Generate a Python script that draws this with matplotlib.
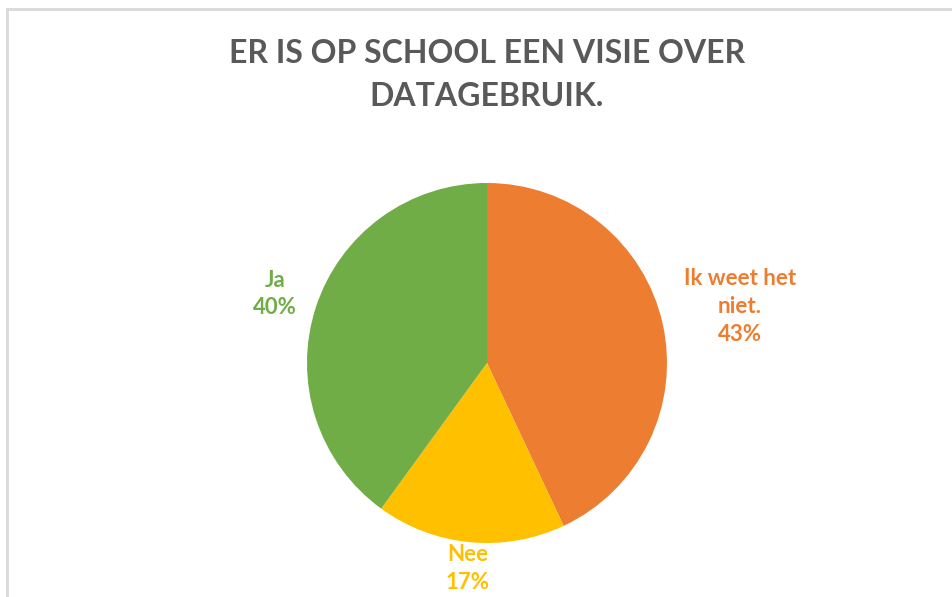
import numpy as np
import matplotlib.pyplot as plt

# data
categories = ['Ik weet het\nniet.', 'Nee', 'Ja']
values = [43, 17, 40]
colors = ['#ED7D31', '#FFC000', '#70AD47']
label_dist = [1.44, 1.145, 1.24]

W, H = 953, 597
fig = plt.figure(figsize=(W / 100, H / 100), dpi=100)
ax = fig.add_axes([0, 0, 1, 1])

cx, cy, r = 487, H - 363, 180
wedges, _ = ax.pie(values, colors=colors, startangle=90, counterclock=False,
                   center=(cx, cy), radius=r, frame=True,
                   wedgeprops=dict(linewidth=0))
ax.set_xlim(0, W)
ax.set_ylim(0, H)
ax.set_aspect('equal')
ax.axis('off')

tot = sum(values)
for w, cat, v, c, d in zip(wedges, categories, values, colors, label_dist):
    ang = np.deg2rad((w.theta1 + w.theta2) / 2)
    x = cx + d * r * np.cos(ang)
    y = cy + d * r * np.sin(ang)
    ax.text(x, y, f'{cat}\n{round(100 * v / tot)}%', color=c, ha='center', va='center',
            fontsize=16, fontweight='bold', family='Lato', linespacing=1.4)

# title
fig.text(487 / W, 1 - 75 / H, 'ER IS OP SCHOOL EEN VISIE OVER\nDATAGEBRUIK.',
         ha='center', va='center', fontsize=23, fontweight='bold', family='Lato',
         color='#595959', linespacing=1.6)

# chart frame (left and top only visible)
ax.plot([7, 7], [0, H - 9], color='#D9D9D9', lw=2, clip_on=False)
ax.plot([7, W], [H - 9, H - 9], color='#D9D9D9', lw=2, clip_on=False)

fig.savefig('out.png', dpi=100)
